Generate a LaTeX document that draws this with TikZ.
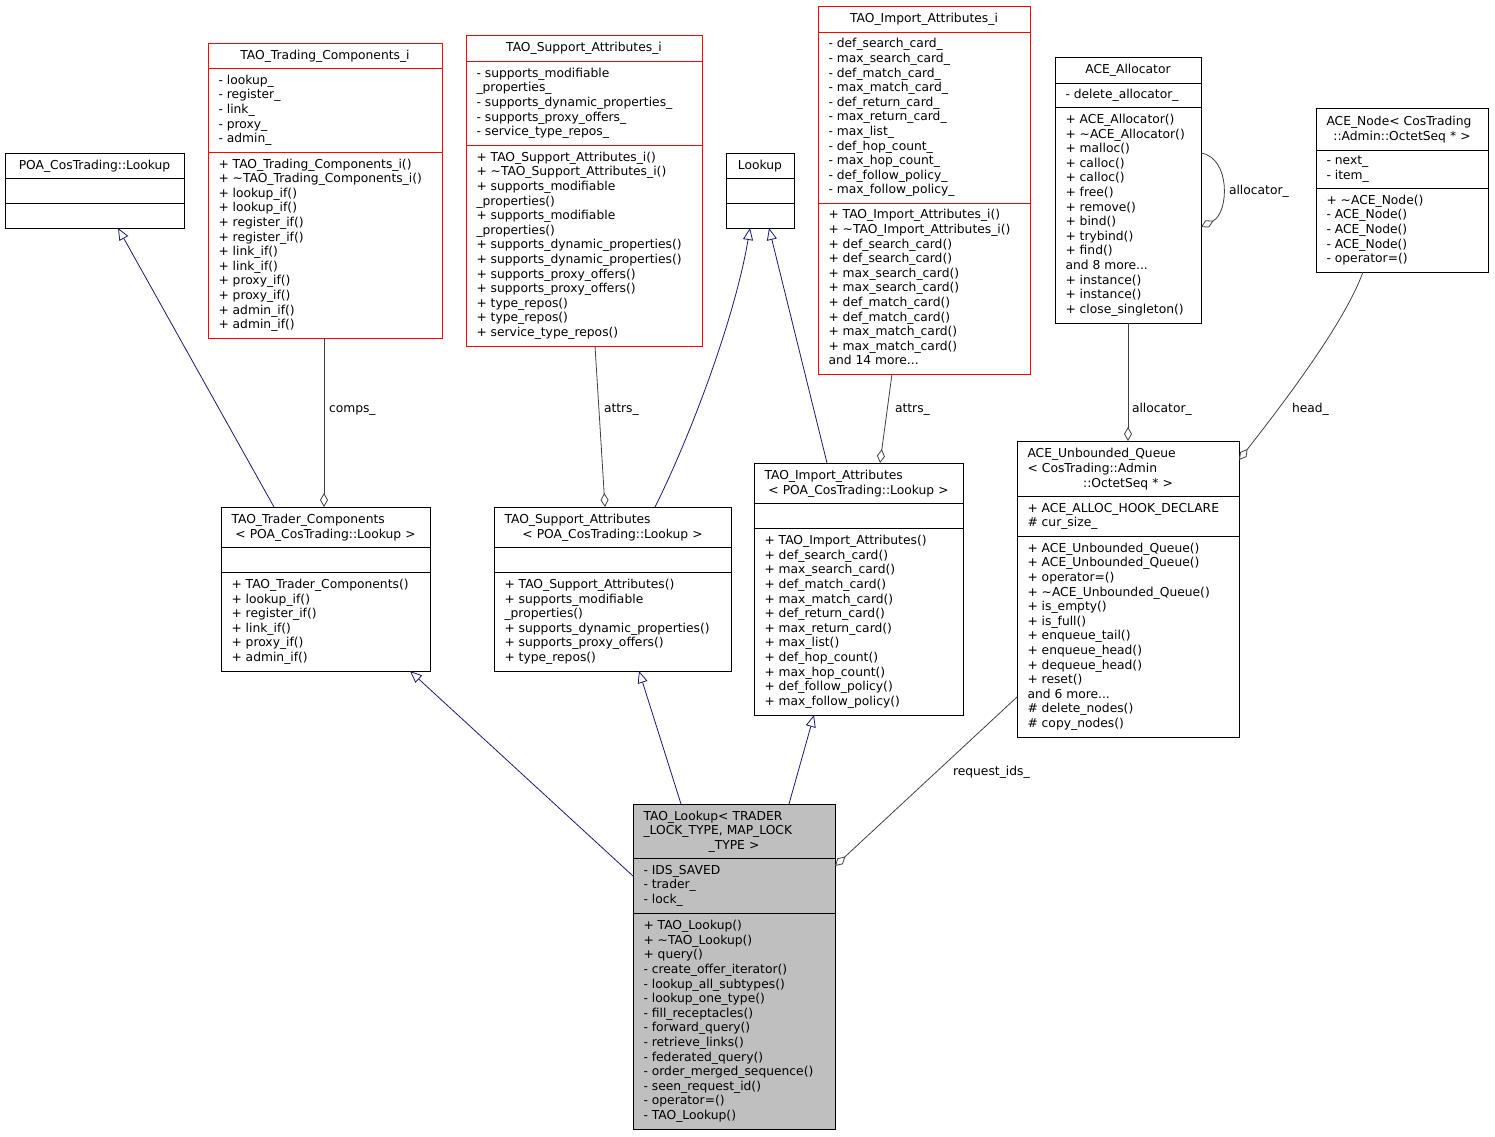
\documentclass[tikz,border=0pt]{standalone}
\usepackage{fontspec}
\setmainfont{DejaVu Sans}
\usetikzlibrary{arrows.meta,calc}
\definecolor{inhcol}{HTML}{191970}
\definecolor{aggcol}{HTML}{404040}
\definecolor{lkfill}{HTML}{BFBFBF}
\newcommand\tld{\textasciitilde}
\newcommand\cls[8]{%
  \node[#2, anchor=north west, minimum width={(#5-#3)*1pt}, minimum height={(#6-#4)*1pt}] (#1) at (#3,#4) {};
  \draw[#2, fill=none] ($(#1.north west)+(0,#7-#4)$) -- ($(#1.north east)+(0,#7-#4)$);
  \draw[#2, fill=none] ($(#1.north west)+(0,#8-#4)$) -- ($(#1.north east)+(0,#8-#4)$);
}
\begin{document}
\begin{tikzpicture}[x=1pt,y=-1pt,
  txt/.style={font=\fontsize{12.3}{14.6}\selectfont, inner sep=0pt, outer sep=0pt, yshift=-2.5pt,
    execute at begin node=\strut, execute at end node=\strut},
  lines/.style={txt, align=left, anchor=west},
  ttl/.style={txt, align=left, text width=#1, anchor=center},
  plainbox/.style={draw=black, line width=0.9pt, fill=white, inner sep=0pt, outer sep=0pt},
  redbox/.style={draw=red, line width=0.9pt, fill=white, inner sep=0pt, outer sep=0pt},
  graybox/.style={draw=black, line width=0.9pt, fill=lkfill, inner sep=0pt, outer sep=0pt},
  inh/.style={draw=inhcol, line width=0.8pt, -{Triangle[open, length=12pt, width=10pt, fill=white]}},
  agg/.style={draw=aggcol, line width=0.8pt, -{Diamond[open, length=14pt, width=8pt, fill=white]}},
  lbl/.style={txt, anchor=west}]
\useasboundingbox (0,0) rectangle (1495,1136);

% POA_CosTrading::Lookup
\cls{A}{plainbox}{5}{153}{184}{228}{178}{203}
\node[txt] (At) at (94.5,164) {POA\_CosTrading::Lookup};

% Lookup
\cls{L}{plainbox}{726}{153}{794}{228}{178}{203}
\node[txt] (Lt) at (760,164) {Lookup};

% TAO_Trading_Components_i
\cls{B}{redbox}{208}{43}{442}{338}{68}{152}
\node[txt] (Bt) at (325,54) {TAO\_Trading\_Components\_i};
\node[lines] (Ba) at (218.5,108.5) {- lookup\_\\- register\_\\- link\_\\- proxy\_\\- admin\_};
\node[lines] (Bm) at (218.5,243.5) {+ TAO\_Trading\_Components\_i()\\+ \tld TAO\_Trading\_Components\_i()\\+ lookup\_if()\\+ lookup\_if()\\+ register\_if()\\+ register\_if()\\+ link\_if()\\+ link\_if()\\+ proxy\_if()\\+ proxy\_if()\\+ admin\_if()\\+ admin\_if()};

% TAO_Support_Attributes_i
\cls{C}{redbox}{466}{35}{702}{346}{61}{145}
\node[txt] (Ct) at (584,46.5) {TAO\_Support\_Attributes\_i};
\node[lines] (Ca) at (476.5,101.5) {- supports\_modifiable\\\_properties\_\\- supports\_dynamic\_properties\_\\- supports\_proxy\_offers\_\\- service\_type\_repos\_};
\node[lines] (Cm) at (476.5,244) {+ TAO\_Support\_Attributes\_i()\\+ \tld TAO\_Support\_Attributes\_i()\\+ supports\_modifiable\\\_properties()\\+ supports\_modifiable\\\_properties()\\+ supports\_dynamic\_properties()\\+ supports\_dynamic\_properties()\\+ supports\_proxy\_offers()\\+ supports\_proxy\_offers()\\+ type\_repos()\\+ type\_repos()\\+ service\_type\_repos()};

% TAO_Import_Attributes_i
\cls{D}{redbox}{818}{6}{1030}{374}{32}{203}
\node[txt] (Dt) at (924,17.5) {TAO\_Import\_Attributes\_i};
\node[lines] (Da) at (828.5,116) {- def\_search\_card\_\\- max\_search\_card\_\\- def\_match\_card\_\\- max\_match\_card\_\\- def\_return\_card\_\\- max\_return\_card\_\\- max\_list\_\\- def\_hop\_count\_\\- max\_hop\_count\_\\- def\_follow\_policy\_\\- max\_follow\_policy\_};
\node[lines] (Dm) at (828.5,287) {+ TAO\_Import\_Attributes\_i()\\+ \tld TAO\_Import\_Attributes\_i()\\+ def\_search\_card()\\+ def\_search\_card()\\+ max\_search\_card()\\+ max\_search\_card()\\+ def\_match\_card()\\+ def\_match\_card()\\+ max\_match\_card()\\+ max\_match\_card()\\and 14 more...};

% ACE_Allocator
\cls{E}{plainbox}{1055}{57}{1201}{323}{83}{107}
\node[txt] (Et) at (1128,68.5) {ACE\_Allocator};
\node[lines] (Ea) at (1065.5,93.5) {- delete\_allocator\_};
\node[lines] (Em) at (1065.5,213.5) {+ ACE\_Allocator()\\+ \tld ACE\_Allocator()\\+ malloc()\\+ calloc()\\+ calloc()\\+ free()\\+ remove()\\+ bind()\\+ trybind()\\+ find()\\and 8 more...\\+ instance()\\+ instance()\\+ close\_singleton()};

% ACE_Node
\cls{F}{plainbox}{1316}{108}{1488}{272}{150}{188}
\node[ttl=151pt] (Ft) at (1402,127.5) {ACE\_Node< CosTrading\\\makebox[\linewidth]{::Admin::OctetSeq * >}};
\node[lines] (Fa) at (1326.5,167.5) {- next\_\\- item\_};
\node[lines] (Fm) at (1326.5,228.5) {+ \tld ACE\_Node()\\- ACE\_Node()\\- ACE\_Node()\\- ACE\_Node()\\- operator=()};

% TAO_Trader_Components
\cls{G}{plainbox}{221}{507}{430}{671}{547}{572}
\node[ttl=188pt] (Gt) at (325.5,525.5) {TAO\_Trader\_Components\\\makebox[\linewidth]{< POA\_CosTrading::Lookup >}};
\node[lines] (Gm) at (231.5,620) {+ TAO\_Trader\_Components()\\+ lookup\_if()\\+ register\_if()\\+ link\_if()\\+ proxy\_if()\\+ admin\_if()};

% TAO_Support_Attributes
\cls{H}{plainbox}{494}{507}{731}{671}{547}{572}
\node[ttl=216pt] (Ht) at (612.5,525.5) {TAO\_Support\_Attributes\\\makebox[\linewidth]{< POA\_CosTrading::Lookup >}};
\node[lines] (Hm) at (504.5,620) {+ TAO\_Support\_Attributes()\\+ supports\_modifiable\\\_properties()\\+ supports\_dynamic\_properties()\\+ supports\_proxy\_offers()\\+ type\_repos()};

% TAO_Import_Attributes
\cls{I}{plainbox}{754}{463}{963}{715}{503}{528}
\node[ttl=188pt] (It) at (858.5,481.5) {TAO\_Import\_Attributes\\\makebox[\linewidth]{< POA\_CosTrading::Lookup >}};
\node[lines] (Im) at (764.5,620) {+ TAO\_Import\_Attributes()\\+ def\_search\_card()\\+ max\_search\_card()\\+ def\_match\_card()\\+ max\_match\_card()\\+ def\_return\_card()\\+ max\_return\_card()\\+ max\_list()\\+ def\_hop\_count()\\+ max\_hop\_count()\\+ def\_follow\_policy()\\+ max\_follow\_policy()};

% ACE_Unbounded_Queue
\cls{J}{plainbox}{1017}{441}{1239}{737}{496}{536}
\node[ttl=201pt] (Jt) at (1128,467) {ACE\_Unbounded\_Queue\\< CosTrading::Admin\\\makebox[\linewidth]{::OctetSeq * >}};
\node[lines] (Ja) at (1027.5,514.5) {+ ACE\_ALLOC\_HOOK\_DECLARE\\\# cur\_size\_};
\node[lines] (Jm) at (1027.5,635) {+ ACE\_Unbounded\_Queue()\\+ ACE\_Unbounded\_Queue()\\+ operator=()\\+ \tld ACE\_Unbounded\_Queue()\\+ is\_empty()\\+ is\_full()\\+ enqueue\_tail()\\+ enqueue\_head()\\+ dequeue\_head()\\+ reset()\\and 6 more...\\\# delete\_nodes()\\\# copy\_nodes()};

% TAO_Lookup
\cls{K}{graybox}{633}{804}{835}{1129}{858}{913}
\node[ttl=181pt] (Kt) at (734,829.5) {TAO\_Lookup< TRADER\\\_LOCK\_TYPE, MAP\_LOCK\\\makebox[\linewidth]{\_TYPE >}};
\node[lines] (Ka) at (643.5,884) {- IDS\_SAVED\\- trader\_\\- lock\_};
\node[lines] (Km) at (643.5,1019.5) {+ TAO\_Lookup()\\+ \tld TAO\_Lookup()\\+ query()\\- create\_offer\_iterator()\\- lookup\_all\_subtypes()\\- lookup\_one\_type()\\- fill\_receptacles()\\- forward\_query()\\- retrieve\_links()\\- federated\_query()\\- order\_merged\_sequence()\\- seen\_request\_id()\\- operator=()\\- TAO\_Lookup()};

% inheritance
\draw[inh] ($(G.north west)+(53,0)$) -- ($(A.south west)+(113,0)$);
\draw[inh] ($(H.north west)+(161,0)$) .. controls +(35,-70) and +(-15,90) .. ($(L.south west)+(24,0)$);
\draw[inh] ($(I.north west)+(73,0)$) -- ($(L.south west)+(43,0)$);
\draw[inh] ($(K.north west)+(48,0)$) -- ($(H.south west)+(145,0)$);
\draw[inh] ($(K.north west)+(156,0)$) -- ($(I.south west)+(60,0)$);
\draw[inh] ($(K.north west)+(0,72)$) -- ($(G.south west)+(189,0)$);

% aggregation
\draw[agg] ($(B.south west)+(116,0)$) -- ($(G.north west)+(103,0)$);
\draw[agg] ($(C.south west)+(129,0)$) -- ($(H.north west)+(111,0)$);
\draw[agg] ($(D.south west)+(74,0)$) -- ($(I.north west)+(126,0)$);
\draw[agg] ($(E.south west)+(73,0)$) -- ($(J.north west)+(111,0)$);
\draw[agg] ($(F.south west)+(47,0)$) .. controls +(-20,55) and +(35,-45) .. ($(J.north east)+(0,19)$);
\draw[agg] ($(J.north west)+(0,256)$) -- ($(K.north east)+(0,62)$);
\draw[agg] ($(E.north east)+(0,96)$) .. controls +(30,5) and +(28,-14) .. ($(E.north east)+(0,170)$);

% labels
\node[lbl] (l1) at (329,407) {comps\_};
\node[lbl] (l2) at (604,407) {attrs\_};
\node[lbl] (l3) at (895,407) {attrs\_};
\node[lbl] (l4) at (1132,407) {allocator\_};
\node[lbl] (l5) at (1292,407) {head\_};
\node[lbl] (l6) at (953,770) {request\_ids\_};
\node[lbl] (l7) at (1229,189) {allocator\_};
\end{tikzpicture}
\end{document}
